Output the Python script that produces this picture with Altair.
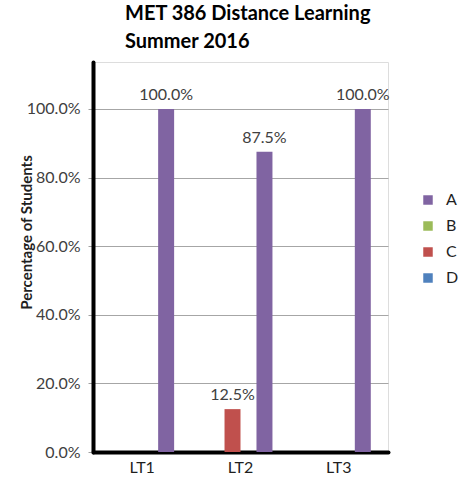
import altair as alt
import pandas as pd

# Learning targets and grade shares per target
targets = ["LT1", "LT2", "LT3"]
grades = ["A", "B", "C", "D"]
share_a = [1.0, 0.875, 1.0]
share_b = [0.0, 0.0, 0.0]
share_c = [0.0, 0.125, 0.0]
share_d = [0.0, 0.0, 0.0]
grade_colors = ["#8064A2", "#9BBB59", "#C0504D", "#4F81BD"]
offset_order = ["B", "C", "D", "A"]
y_ticks = [0.0, 0.2, 0.4, 0.6, 0.8, 1.0]

rows = []
for series, vals in zip(grades, [share_a, share_b, share_c, share_d]):
    for t, v in zip(targets, vals):
        rows.append({"target": t, "grade": series, "share": v})
df = pd.DataFrame(rows)

FONT = "Lato"
x_enc = alt.X(
    "target:N",
    sort=targets,
    scale=alt.Scale(paddingInner=0.35, paddingOuter=0.175),
    axis=alt.Axis(
        title=None, labelAngle=0, labelFontSize=16, labelColor="#1F1F1F",
        labelFont=FONT, ticks=False, domainColor="black", domainWidth=4,
        domainCap="round", labelPadding=7,
    ),
)
y_enc = alt.Y(
    "share:Q",
    scale=alt.Scale(domain=[0, 1.137], nice=False),
    axis=alt.Axis(
        values=y_ticks, format=".1%", title="Percentage of Students",
        titleFont=FONT, titleFontSize=15, titleFontWeight="bold",
        titleColor="#1F1F1F", titleX=-67, titleY=170, titleAngle=-90,
        titleAlign="center", titleBaseline="middle",
        labelFont=FONT, labelFontSize=16, labelColor="#404040",
        labelPadding=8, tickSize=5, tickColor="#A0A0A0",
        domainColor="black", domainWidth=4, domainCap="round",
        gridColor="#A6A6A6", gridWidth=1.2,
    ),
)
xo = alt.XOffset("grade:N", sort=offset_order, scale=alt.Scale(paddingInner=0, paddingOuter=0))

bars = alt.Chart(df).mark_bar().encode(
    x=x_enc,
    y=y_enc,
    xOffset=xo,
    color=alt.Color(
        "grade:N",
        sort=grades,
        scale=alt.Scale(domain=grades, range=grade_colors),
        legend=alt.Legend(
            title=None, orient="none", legendX=327, legendY=130,
            symbolType="square", symbolSize=90, symbolStrokeWidth=0,
            labelFont=FONT, labelFontSize=16, labelColor="#1F1F1F",
            rowPadding=10, labelOffset=10,
        ),
    ),
)

labels = alt.Chart(df).transform_filter("datum.share > 0").mark_text(
    baseline="bottom", dy=-6, fontSize=16, font=FONT, color="#404040"
).encode(
    x=alt.X("target:N", sort=targets),
    xOffset=xo,
    y="share:Q",
    text=alt.Text("share:Q", format=".1%"),
)

chart = (
    alt.layer(bars, labels)
    .properties(
        width=295,
        height=390,
        padding={"left": 93, "top": 62, "right": 73, "bottom": 26},
        autosize=alt.AutoSizeParams(type="none"),
        title=alt.TitleParams(
            text=["MET 386 Distance Learning", "Summer 2016"],
            anchor="start", frame="group", dx=32, offset=10,
            font=FONT, fontSize=20, fontWeight="bold", color="#000000",
            lineHeight=28,
        ),
    )
    .configure_view(stroke=None)
    .configure(background="white")
)

chart.save("out.html", embed_options={"renderer": "svg", "actions": False})
